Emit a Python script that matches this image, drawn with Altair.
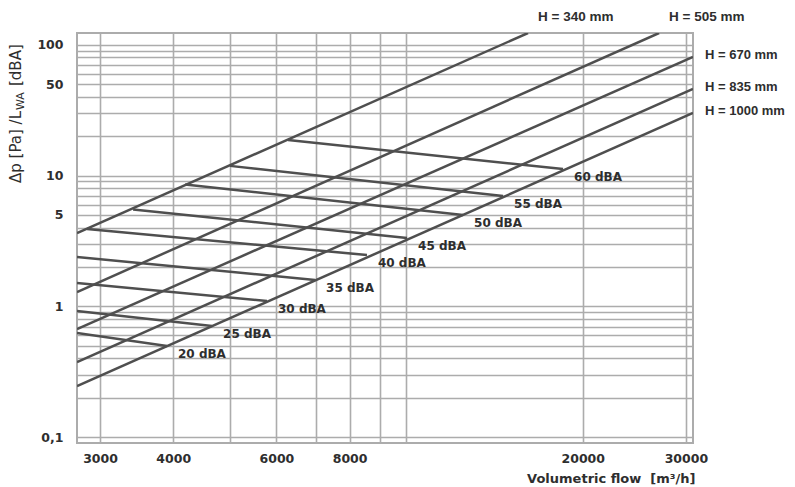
import altair as alt
import pandas as pd

# ---------------- data ----------------
# Duct-height characteristic lines (straight lines on log-log axes)
H_NAMES = ["H = 340 mm", "H = 505 mm", "H = 670 mm", "H = 835 mm", "H = 1000 mm"]
H_Q_START = [2740, 2740, 2740, 2740, 2740]
H_DP_START = [3.63, 1.285, 0.670, 0.3745, 0.2455]
H_Q_END = [16130, 27000, 30850, 30850, 30850]
H_DP_END = [123, 123, 80.6, 45.9, 30.1]
H_LABEL_SIDE = ["top", "top", "right", "right", "right"]

# Sound power level lines
DBA_NAMES = ["20 dBA", "25 dBA", "30 dBA", "35 dBA", "40 dBA",
             "45 dBA", "50 dBA", "55 dBA", "60 dBA"]
DBA_Q_START = [2740, 2740, 2740, 2740, 2850, 3416, 4191, 5000, 6281]
DBA_DP_START = [0.624, 0.92, 1.505, 2.38, 3.90, 5.50, 8.55, 11.85, 18.70]
DBA_Q_END = [3903, 4659, 5782, 6985, 8565, 10026, 12495, 14622, 18510]
DBA_DP_END = [0.4966, 0.706, 1.096, 1.588, 2.465, 3.33, 4.99, 6.97, 11.21]

# Axes
X_GRID = [3000, 4000, 5000, 6000, 7000, 8000, 9000, 10000, 20000, 30000]
X_LABELED = [3000, 4000, 6000, 8000, 20000, 30000]
Y_GRID = [0.1, 0.2, 0.3, 0.4, 0.5, 0.6, 0.7, 0.8, 0.9,
          1, 2, 3, 4, 5, 6, 7, 8, 9,
          10, 20, 30, 40, 50, 60, 70, 80, 90, 100]
Y_LABELED = [1, 5, 10, 50, 100]
X_DOMAIN = [2740, 30850]
Y_DOMAIN = [0.09, 123]

X_TITLE = "Volumetric flow\u00a0 [m³/h]"

# ---------------- tables ----------------
h_rows = []
for n, qs, ds, qe, de in zip(H_NAMES, H_Q_START, H_DP_START, H_Q_END, H_DP_END):
    h_rows.append({"name": n, "q": qs, "dp": ds, "o": 0})
    h_rows.append({"name": n, "q": qe, "dp": de, "o": 1})
h_df = pd.DataFrame(h_rows)
h_lab = pd.DataFrame({"name": H_NAMES, "q": H_Q_END, "dp": H_DP_END, "side": H_LABEL_SIDE})

d_rows = []
for n, qs, ds, qe, de in zip(DBA_NAMES, DBA_Q_START, DBA_DP_START, DBA_Q_END, DBA_DP_END):
    d_rows.append({"name": n, "q": qs, "dp": ds, "o": 0})
    d_rows.append({"name": n, "q": qe, "dp": de, "o": 1})
d_df = pd.DataFrame(d_rows)
d_lab = pd.DataFrame({"name": DBA_NAMES, "q": DBA_Q_END, "dp": DBA_DP_END})

# ---------------- style ----------------
LINE = "#4f4f4f"
TXT = "#2e2e2e"
GRID = "#acacac"
FONT = "DejaVu Sans"
HFONT = "Liberation Sans"

x_lab_list = ",".join(str(v) for v in X_LABELED)
y_lab_list = ",".join(str(v) for v in Y_LABELED)

x_enc = alt.X(
    "q:Q",
    scale=alt.Scale(type="log", domain=X_DOMAIN, nice=False),
    axis=alt.Axis(
        values=X_GRID,
        format="d",
        labelExpr=f"indexof([{x_lab_list}], datum.value) >= 0 ? datum.label : ''",
        title=X_TITLE,
        titleX=618,
        titleY=35,
        titleAlign="right",
        titleBaseline="middle",
        titleFont=FONT,
        titleFontSize=13,
        titleFontWeight="bold",
        titleColor=TXT,
        labelPadding=9,
        labelFlush=False,
        labelOverlap=False,
    ),
)
y_enc = alt.Y(
    "dp:Q",
    scale=alt.Scale(type="log", domain=Y_DOMAIN, nice=False),
    axis=alt.Axis(
        values=Y_GRID,
        labelExpr=(
            "datum.value == 0.1 ? '0,1' : "
            f"(indexof([{y_lab_list}], datum.value) >= 0 ? format(datum.value, 'd') : '')"
        ),
        title=None,
        labelPadding=14,
        labelFlush=False,
        labelOverlap=False,
    ),
)

h_lines = alt.Chart(h_df).mark_line(
    clip=True, color=LINE, strokeWidth=2.5
).encode(x=x_enc, y=y_enc, detail="name:N", order="o:Q")

d_lines = alt.Chart(d_df).mark_line(
    clip=True, color=LINE, strokeWidth=2.5
).encode(x="q:Q", y="dp:Q", detail="name:N", order="o:Q")

d_text = alt.Chart(d_lab).mark_text(
    align="left", baseline="middle", dx=11, dy=8,
    font=FONT, fontSize=12, fontWeight="bold", color=TXT
).encode(x="q:Q", y="dp:Q", text="name:N")

h_text_top = alt.Chart(h_lab).transform_filter(
    alt.datum.side == "top"
).mark_text(
    align="left", baseline="middle", dx=10, dy=-16,
    font=HFONT, fontSize=13.5, fontWeight="bold", color=TXT
).encode(x="q:Q", y="dp:Q", text="name:N")

h_text_right = alt.Chart(h_lab).transform_filter(
    alt.datum.side == "right"
).mark_text(
    align="left", baseline="middle", dx=12, dy=-2,
    font=HFONT, fontSize=13, fontWeight="bold", color=TXT
).encode(x="q:Q", y="dp:Q", text="name:N")

one = pd.DataFrame({"a": [0]})
yt1 = alt.Chart(one).mark_text(
    text="Δp [Pa] /L", angle=270, align="left", baseline="alphabetic",
    font=FONT, fontSize=15, color=TXT
).encode(x=alt.value(-56), y=alt.value(150))
yt2 = alt.Chart(one).mark_text(
    text="WA", angle=270, align="left", baseline="alphabetic",
    font=FONT, fontSize=11, color=TXT
).encode(x=alt.value(-53), y=alt.value(77))
yt3 = alt.Chart(one).mark_text(
    text="[dBA]", angle=270, align="left", baseline="alphabetic",
    font=FONT, fontSize=15, color=TXT
).encode(x=alt.value(-56), y=alt.value(53))

chart = alt.layer(
    h_lines, d_lines, d_text, h_text_top, h_text_right, yt1, yt2, yt3
).properties(
    width=616,
    height=410,
    autosize=alt.AutoSizeParams(type="none"),
    padding={"left": 69, "top": 25, "right": 94, "bottom": 42},
).configure_view(
    stroke=GRID, strokeWidth=2
).configure_axis(
    labelFont=FONT,
    labelFontSize=12.5,
    labelFontWeight="bold",
    labelColor=TXT,
    domain=False,
    ticks=False,
    grid=True,
    gridColor=GRID,
    gridWidth=1.6,
    gridOpacity=1,
)

chart.save("out.html", embed_options={"renderer": "svg", "actions": False})
